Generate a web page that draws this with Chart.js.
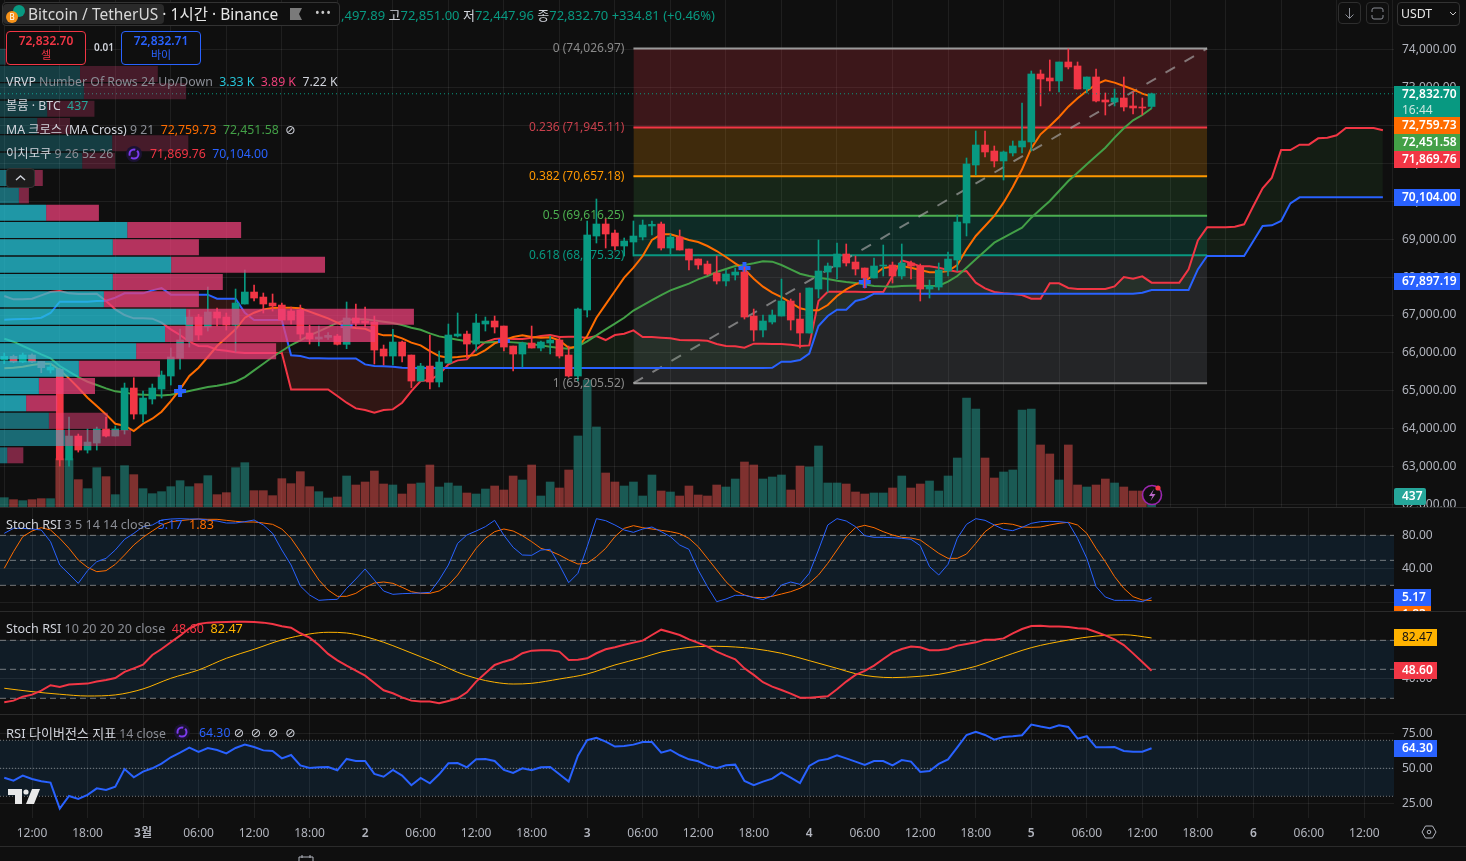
<!DOCTYPE html>
<html lang="ko">
<head>
<meta charset="utf-8">
<title>BTCUSDT</title>
<script src="https://cdn.jsdelivr.net/npm/chart.js@4/dist/chart.umd.min.js"></script>
<style>
html,body{margin:0;padding:0;background:#0f0f0f;width:1466px;height:861px;overflow:hidden}
body{position:relative;font-family:"Noto Sans","Noto Sans CJK KR",sans-serif;color:#d1d4dc}
canvas{position:absolute;left:0}
.t{position:absolute;white-space:nowrap;font-size:12.3px;line-height:16px;z-index:5}
.p{font-size:12.6px}
.g{color:#8b8e96}.w{color:#d1d4dc}
.sep{position:absolute;left:0;width:1466px;height:1px;background:#2b2b2b;z-index:4}
.tag{position:absolute;left:1394px;z-index:6;font-size:12px;line-height:16px;padding-left:8px;box-sizing:border-box;color:#fff;overflow:hidden;white-space:nowrap;font-weight:600}
.box{position:absolute;z-index:5;box-sizing:border-box;border-radius:4px}
.order{text-align:center;font-size:12px;line-height:14px;padding-top:2px;font-weight:600;background:#0f0f0f}
svg{position:absolute;z-index:6}
</style>
</head>
<body>
<canvas id="priceChart" width="1466" height="507" style="top:0;z-index:1"></canvas>
<canvas id="vpChart" width="1394" height="416" style="top:48px;z-index:2"></canvas>
<canvas id="stochFast" width="1466" height="103" style="top:508px;z-index:1"></canvas>
<canvas id="stochSlow" width="1466" height="102" style="top:612px;z-index:1"></canvas>
<canvas id="rsiChart" width="1466" height="131" style="top:715px;z-index:1"></canvas>

<div class="sep" style="top:507px"></div>
<div class="sep" style="top:611px"></div>
<div class="sep" style="top:714px"></div>
<div class="sep" style="top:846px"></div>

<!-- header -->
<div class="box" style="left:2px;top:2px;width:338px;height:24px;border:1px solid #333;background:#0f0f0f"></div>
<div class="box" style="left:3px;top:4px;width:161px;height:20px;background:#2a2a2a"></div>
<svg style="left:5px;top:4px" width="20" height="20"><circle cx="14" cy="7" r="6" fill="#089981"/><circle cx="7" cy="13" r="6" fill="#f7931a"/><text x="7" y="16" font-size="8" fill="#fff" text-anchor="middle">B</text></svg>
<div class="t" style="left:28px;top:6px;font-size:15.5px;color:#d8d8d8">Bitcoin / TetherUS<span style="color:#e6e6e6"> · 1시간 · Binance</span></div>
<svg style="left:290px;top:8px" width="13" height="12"><path d="M0 0h12l-3 6 3 6H0z" fill="#7a7a7a"/></svg>
<div class="t" style="left:315px;top:5px;color:#c8c8c8;letter-spacing:1px">•••</div>
<div class="t" style="left:341px;top:7px;font-size:13px;color:#089981">,497.89 <span class="w">고</span>72,851.00 <span class="w">저</span>72,447.96 <span class="w">종</span>72,832.70 +334.81 (+0.46%)</div>

<div class="box order" style="left:6px;top:31px;width:80px;height:34px;border:1px solid #f23645;color:#f23645">72,832.70<br><span style="font-weight:400;font-size:11px">셀</span></div>
<div class="t" style="left:94px;top:39px;font-size:10px;font-weight:600">0.01</div>
<div class="box order" style="left:121px;top:31px;width:80px;height:34px;border:1px solid #2962ff;color:#2962ff">72,832.71<br><span style="font-weight:400;font-size:11px">바이</span></div>

<div class="t" style="left:6px;top:74px"><span class="w">VRVP</span> <span class="g">Number Of Rows 24 Up/Down</span> &nbsp;<span style="color:#26c6da">3.33 K</span> &nbsp;<span style="color:#ec407a">3.89 K</span> &nbsp;<span class="w">7.22 K</span></div>
<div class="t" style="left:6px;top:98px"><span class="w">볼륨 · BTC</span> &nbsp;<span style="color:#26a69a">437</span></div>
<div class="t" style="left:6px;top:122px"><span class="w">MA 크로스 (MA Cross)</span> <span class="g">9 21</span> &nbsp;<span style="color:#ff6d00">72,759.73</span> &nbsp;<span style="color:#43a047">72,451.58</span> &nbsp;<span class="w" style="font-family:'DejaVu Sans'">⊘</span></div>
<div class="t" style="left:6px;top:146px"><span class="w">이치모쿠</span> <span class="g">9 26 52 26</span></div>
<svg style="left:126px;top:146px" width="16" height="16"><circle cx="8" cy="8" r="8" fill="#1b1233"/><circle cx="8" cy="8" r="4.5" fill="none" stroke="#7c3aed" stroke-width="2" stroke-dasharray="10 2"/></svg>
<div class="t" style="left:150px;top:146px"><span style="color:#f23645">71,869.76</span> &nbsp;<span style="color:#2962ff">70,104.00</span></div>
<div class="box" style="left:6px;top:168px;width:29px;height:20px;background:#1c1c1c;border:1px solid #333"></div>
<svg style="left:14px;top:174px" width="13" height="8"><path d="M2 6l4.5-4 4.5 4" fill="none" stroke="#d1d4dc" stroke-width="1.4"/></svg>

<div class="box" style="left:1338px;top:2px;width:23px;height:22px;border:1px solid #2e2e2e"></div>
<svg style="left:1343px;top:7px" width="13" height="13"><path d="M6.5 1v10M2.5 7.5l4 4 4-4" fill="none" stroke="#8b8e96"/></svg>
<div class="box" style="left:1366px;top:2px;width:23px;height:22px;border:1px solid #2e2e2e"></div>
<svg style="left:1370px;top:7px" width="15" height="13"><path d="M2 5V3q0-2 2-2h7q2 0 2 2v2M2 8v2q0 2 2 2h7q2 0 2-2V8" fill="none" stroke="#8b8e96"/></svg>
<div class="box" style="left:1397px;top:2px;width:63px;height:24px;border:1px solid #333"></div>
<div class="t" style="left:1401px;top:6px;color:#e6e6e6">USDT</div>
<svg style="left:1449px;top:11px" width="8" height="6"><path d="M1 1l3 3 3-3" fill="none" stroke="#c8c8c8"/></svg>

<!-- pane legends -->
<div class="t p" style="left:6px;top:517px"><span class="w">Stoch RSI</span> <span class="g">3 5 14 14 close</span> &nbsp;<span style="color:#2962ff">5.17</span> &nbsp;<span style="color:#ff6d00">1.83</span></div>
<div class="t p" style="left:6px;top:621px"><span class="w">Stoch RSI</span> <span class="g">10 20 20 20 close</span> &nbsp;<span style="color:#f23645">48.60</span> &nbsp;<span style="color:#ffb300">82.47</span></div>
<div class="t" style="left:6px;top:725px"><span class="w" style="font-size:13px">RSI 다이버전스 지표</span> <span class="g">14 close</span></div>
<svg style="left:174px;top:724px" width="16" height="16"><circle cx="8" cy="8" r="8" fill="#1b1233"/><circle cx="8" cy="8" r="4.5" fill="none" stroke="#7c3aed" stroke-width="2" stroke-dasharray="10 2"/></svg>
<div class="t" style="left:199px;top:725px"><span style="color:#2962ff">64.30</span> <span class="w" style="font-family:'DejaVu Sans';word-spacing:3px">⊘ ⊘ ⊘ ⊘</span></div>

<!-- price tags -->
<div class="tag" style="top:86px;width:66px;height:31px;background:#089981">72,832.70<br><span style="font-weight:400;color:#c9e6e0">16:44</span></div>
<div class="tag" style="top:117px;width:66px;height:17px;background:#ff6d00">72,759.73</div>
<div class="tag" style="top:134px;width:66px;height:17px;background:#43a047">72,451.58</div>
<div class="tag" style="top:151px;width:66px;height:17px;background:#f23645">71,869.76</div>
<div class="tag" style="top:189px;width:66px;height:17px;background:#2962ff">70,104.00</div>
<div class="tag" style="top:273px;width:66px;height:17px;background:#2962ff">67,897.19</div>
<div class="tag" style="top:488px;width:32px;height:17px;background:#26a69a;border-radius:2px">437</div>
<div class="tag" style="top:589px;width:37px;height:17px;background:#2962ff">5.17</div>
<div class="tag" style="top:606px;width:37px;height:5px;background:#ff6d00">1.83</div>
<div class="tag" style="top:629px;width:43px;height:17px;background:#ffb300;color:#131313;font-weight:400">82.47</div>
<div class="tag" style="top:662px;width:43px;height:17px;background:#f23645">48.60</div>
<div class="tag" style="top:740px;width:43px;height:17px;background:#2962ff">64.30</div>

<!-- icons -->
<svg style="left:1140px;top:483px" width="24" height="24"><circle cx="12" cy="12" r="9.5" fill="#0f0f0f" stroke="#9c27b0" stroke-width="1.6"/><path d="M14 6l-5 7h3.5l-2 5 5-7H12z" fill="#ba68c8"/><circle cx="18" cy="5" r="2.6" fill="#f23645"/></svg>
<svg style="left:6px;top:787px" width="36" height="19"><path d="M2 2h14v15H9V8H2z" fill="#e8e8e8"/><circle cx="20" cy="5" r="2.6" fill="#e8e8e8"/><path d="M26 2h8l-6 15h-8z" fill="#e8e8e8"/></svg>
<svg style="left:1421px;top:825px" width="16" height="14"><path d="M4.5 1h7L15 7l-3.500 6h-7L1 7z" fill="none" stroke="#b2b5be"/><circle cx="8" cy="7" r="1.800" fill="none" stroke="#b2b5be"/></svg>
<svg style="left:297px;top:854px" width="18" height="7"><path d="M2 7V3h14v4M5 1v3M13 1v3" fill="none" stroke="#b2b5be"/></svg>

<script>
// first candle is 1 Mar 09:00, hours are counted from 1 Mar 12:00
const firstHour = -3
const hourMin = -3.46
const hourMax = 147.2

const timeLabels = ['12:00','18:00','3월','06:00','12:00','18:00','2','06:00','12:00','18:00','3','06:00','12:00','18:00','4','06:00','12:00','18:00','5','06:00','12:00','18:00','6','06:00','12:00']
const dayLabels = ['3월','2','3','4','5','6']
const priceTicks = [74000,73000,72000,71000,70000,69000,68000,67000,66000,65000,64000,63000,62000]
const stochTicks = [80,40,0]
const rsiTicks = [75,50,25]

const opens = [
65815,65911,65762,65946,65779,65551,65569,63179,63811,63442,
63627,63996,63811,63969,65077,64391,64787,65050,65393,65867,
66316,66948,66685,67080,66948,66737,67291,67607,67475,67317,
67264,67106,67133,66526,66368,66412,66447,66228,66922,66843,
66816,66105,65920,66289,65946,65261,65656,65235,65735,66447,
66500,66236,66764,66843,66711,66184,65973,66263,66131,66263,
66342,65946,65393,67133,69083,69400,69162,68820,68925,69057,
69347,69400,68767,69057,68741,68477,68345,68108,67897,68055,
68134,66974,66605,66816,66974,67370,66895,66526,67686,68134,
68266,68609,68398,68240,67976,68293,68319,68029,68372,68293,
67686,67739,68161,68451,69426,70955,71482,71324,71061,71272,
71430,71562,73354,73249,73170,73670,73565,72959,73275,72669,
72616,72721,72511,72484,72497.89]
const highs = [
65999,65946,65999,65980,65779,65718,65600,64312,63864,63996,
64048,64312,64075,65208,65349,64997,65182,65525,66131,66632,
67133,67018,67739,67185,67054,67686,68187,67792,67581,67555,
67317,67212,67264,66737,66711,66535,66491,67344,67291,67212,
66974,66210,66623,66316,65946,65727,66474,66052,66764,67054,
66579,67027,66948,66974,66711,66184,66289,66711,66315,66447,
66403,66184,67185,69479,70059,69549,69242,69031,69479,69505,
69479,69452,69136,69242,68741,68477,68424,68556,68187,68240,
68266,67159,67001,67133,67950,67423,67581,67713,68978,68372,
68899,68873,68556,68240,68503,68846,68398,68873,68424,68345,
67923,68372,68662,69637,71140,71852,71852,71456,71324,71588,
72590,73433,73460,73723,73670,74013,73670,73275,73486,72853,
72959,73275,72880,72721,72851]
const lows = [
65718,65744,65744,65744,65481,65472,63020,63020,63389,63363,
63442,63785,63811,63864,64259,64180,64655,64813,65156,65577,
66157,66342,66579,66711,66605,66026,67291,67370,67054,67106,
66869,66764,66368,66236,66184,66359,66210,66113,66711,66685,
65709,65683,65683,65762,65085,65261,65050,65103,65735,66421,
65876,66052,66579,66526,66052,65525,65630,66131,66052,65973,
65867,65366,65261,66948,68899,68767,68714,68556,68556,68978,
69110,68714,68609,68714,68187,68213,68055,67818,67765,67923,
66895,66315,66421,66764,66974,66605,66131,66526,67449,67607,
67950,68293,68055,67713,67976,68029,67844,67950,67950,67370,
67449,67660,68029,68161,69084,70692,71166,70903,70560,71192,
71272,71324,72511,72906,72880,73486,72959,72853,72616,72273,
72511,72379,72300,72273,72447.96]
const closes = [
65911,65762,65946,65762,65613,65630,63179,63811,63442,63653,
63996,63811,63996,65077,64391,64813,65077,65419,65894,66342,
66948,66474,67080,66922,66737,67317,67607,67449,67291,67238,
66869,66869,66500,66368,66421,66465,66228,66922,66790,66790,
66078,65920,66289,65920,65261,65656,65235,65762,66474,66500,
66236,66790,66843,66685,66157,65973,66263,66131,66289,66342,
65920,65393,67159,69110,69400,69136,68820,68952,69083,69373,
69391,68767,69057,68714,68451,68319,68082,67897,68082,68134,
66948,66605,66843,67001,67370,66869,66526,67713,68161,68293,
68609,68372,68213,67976,68293,68319,68029,68372,68293,67686,
67765,68187,68477,69452,70982,71482,71298,71061,71298,71456,
71588,73354,73222,73170,73670,73539,72959,73275,72642,72616,
72721,72484,72458,72458,72832.70]
const volumes = [
411,323,279,323,367,367,2127,2127,1203,807,
1731,1335,543,1819,1423,807,587,675,895,1159,
895,1027,1379,543,631,1731,1951,719,719,499,
1247,1027,1555,895,675,396,440,1364,968,1100,
1584,1012,968,572,1012,1056,1848,880,1056,924,
616,572,792,924,748,1364,1188,1848,484,1100,
836,1628,3125,5589,3521,1496,1100,924,1100,484,
1408,704,660,484,924,528,484,968,880,1232,
1980,1848,1232,1320,1408,748,1804,1760,2685,1056,
1056,1012,660,572,616,616,836,1364,836,1012,
1144,704,1364,2156,4797,4313,2156,1276,1540,1628,
4269,4313,2729,2333,1188,2729,968,880,968,1232,
1056,880,704,704,437]

const maFast = [
65595,65613,65639,65683,65718,65718,65551,65331,65085,64822,
64602,64382,64136,64084,63943,64136,64268,64453,64734,65041,
65393,65613,65894,66184,66403,66623,66931,67062,67150,67185,
67194,67194,67177,67089,67001,66913,66799,66684,66658,66640,
66535,66465,66465,66386,66272,66201,66052,65920,65876,65894,
65920,65946,66078,66254,66333,66421,66465,66421,66403,66412,
66333,66140,66166,66447,66930,67282,67633,67985,68249,68556,
68978,69127,69127,69057,68978,68925,68820,68688,68530,68363,
68205,67959,67748,67590,67475,67326,67177,67124,67124,67264,
67502,67677,67809,67897,68055,68240,68275,68293,68249,68187,
68126,68126,68161,68319,68732,69084,69347,69611,69962,70375,
70841,71395,71764,71983,72221,72493,72713,72906,73082,73187,
73126,73038,72950,72836,72759.73]
const maSlow = [
66377,66298,66184,66078,65964,65859,65656,65507,65366,65243,
65156,65068,64989,64962,64910,64901,64892,64883,64901,64945,
64997,65050,65103,65138,65182,65243,65366,65542,65718,65894,
66052,66210,66333,66465,66570,66684,66799,66869,66887,66887,
66860,66825,66790,66737,66667,66614,66518,66438,66395,66351,
66307,66289,66280,66289,66298,66280,66263,66228,66201,66166,
66131,66113,66175,66307,66465,66623,66772,66930,67120,67256,
67396,67528,67651,67739,67827,67941,68029,68134,68213,68293,
68319,68363,68416,68407,68319,68205,68090,68029,67985,67950,
67906,67871,67844,67809,67765,67756,67748,67765,67774,67774,
67765,67774,67880,68030,68249,68468,68688,68908,69040,69172,
69303,69567,69787,70006,70270,70533,70753,70973,71192,71412,
71676,71922,72133,72273,72451.58]

// the cloud runs 25 hours past the last candle
const spanA = [
67502,67414,67414,67431,67519,67607,67634,67572,67555,67555,
67563,67370,67150,67001,66913,66913,66904,66799,66623,66474,
66298,66184,66175,66087,66061,66017,66000,66000,66000,66000,
66000,65041,65041,65041,65041,65041,64866,64690,64540,64496,
64426,64496,64514,64690,64997,65261,65287,65437,65700,65806,
65832,66096,66289,66368,66386,66368,66368,66403,66447,66474,
66421,66430,66430,66395,66447,66342,66474,66509,66597,66421,
66421,66403,66386,66342,66333,66333,66324,66236,66184,66175,
66140,66245,66245,66236,66236,66219,66184,66201,67370,67616,
67616,67616,67616,67607,67607,67607,68029,68442,68372,68284,
68284,68249,68187,68143,68161,67853,67704,67607,67572,67555,
67528,67432,67432,67836,67836,67713,67687,67687,67687,67687,
67757,68003,67959,68020,67853,67853,67853,67853,68204,68969,
69312,69312,69312,69329,69391,69874,70340,70621,71350,71350,
71491,71491,71658,71675,71737,71930,71930,71930,71930,71869.76]
const spanB = [
66878,66887,66895,66904,66931,67054,67352,67352,67352,67352,
67370,67379,67458,67572,67572,67572,67651,67713,67537,67537,
67537,67537,67537,67431,67431,67431,67062,66869,66869,66869,
66869,65938,65920,65859,65859,65858,65858,65858,65858,65700,
65656,65648,65639,65612,65604,65604,65604,65604,65604,65604,
65604,65604,65604,65604,65604,65604,65604,65604,65604,65604,
65604,65604,65604,65604,65604,65604,65604,65604,65604,65604,
65604,65604,65604,65604,65604,65604,65604,65604,65604,65604,
65604,65604,65604,65612,65770,65770,65815,65982,66711,66974,
67141,67141,67370,67431,67563,67563,67563,67563,67563,67563,
67563,67563,67563,67563,67563,67563,67563,67563,67563,67563,
67563,67563,67563,67563,67563,67563,67563,67563,67563,67563,
67563,67563,67563,67590,67660,67660,67660,67660,67660,68204,
68556,68556,68556,68556,68556,68951,69347,69364,69479,69944,
70104,70104,70104,70104,70104,70104,70104,70104,70104,70104]

const crossHours = [16,34,51,77,90]
const crossPrices = [64997,66711,66316,68240,67871]

const fibStart = 65
const fibEnd = 127
const fibRatios = ['0','0.236','0.382','0.5','0.618','1']
const fibPrices = [74026.97,71945.11,70657.18,69616.25,68575.32,65205.52]

// visible range profile, top row first
const vpUp = [9,144,151,85,67,202,148,36,34,83,229,203,308,203,187,335,297,245,142,70,47,88,117,13]
const vpDown = [2,140,184,85,59,137,59,41,18,95,205,155,277,198,171,410,378,252,146,101,56,106,119,29]

const stochFastK = [
82.4,88.4,88.4,87.6,86.4,72.4,44.4,33.6,22.4,37.6,
48.4,52.4,62.4,75.2,82.4,90.4,92.4,98.4,99.6,100,
99.6,99.6,98.4,97.2,94.8,94.8,96.4,98.4,92.4,82.4,
62.4,44.4,19.2,8.4,2,2.8,3.2,16.4,27.6,39.6,
26.4,13.2,9.2,10,10.4,10.8,11.6,26.4,44.4,70.4,
80.4,85.2,90.4,98,80,65.6,56.4,56,62.4,63.2,
44.4,23.2,34.4,66.4,100,97.6,92.4,86.4,83.6,87.6,
90,84.4,78.4,68.4,63.2,38.4,18.4,0.4,3.6,8,
8,5.2,2.8,7.6,20.4,24,21.2,34.4,62.4,92.4,
100,97.2,90.4,79.6,77.6,77.6,77.2,76.4,75.2,67.6,
42.4,32.4,45.2,76.4,93.2,100,98,92.4,87.2,85.6,
89.6,94.4,96.4,96.8,96.4,95.2,76.4,52.4,18.4,6,
2,2,2,0.4,5.17]
const stochFastD = [
40.4,60.4,78.4,85.2,89.2,86.4,76.4,64.4,50.4,41.6,
36.4,37.6,45.2,56.4,68.4,77.6,85.2,92.4,96.4,97.6,
98.8,99.6,99.2,99.2,98,96.8,96,96,94.8,93.2,
87.6,76.4,60.4,43.2,26.4,14.4,6.8,6.8,10.4,17.6,
22.8,24,22.4,17.6,12.4,10.4,10.4,13.2,20.4,32.4,
48.4,64.4,76.4,84.4,87.6,85.2,79.6,72.4,64.4,61.2,
56.4,50.4,45.6,46.4,54.4,64.4,78.4,88.4,91.6,89.2,
87.6,86,84.4,82,76.4,66.4,52.4,38.4,24.4,13.6,
8.4,5.6,5.2,6.8,9.6,12.4,16.4,22.4,32.4,46.4,
62.4,78.4,89.2,92,89.2,84.4,80.4,77.6,76.8,74.4,
66.4,58.4,52.4,52.4,57.6,70.4,84.4,92.4,94.4,93.2,
90,89.6,90,92.4,94.4,95.6,92.4,82.4,64.4,48.4,
30.4,16.4,6.4,2.4,1.83]
const stochSlowK = [
15.9,17.6,21.7,23.8,28,33.5,31.7,34.2,34.8,35.2,
37.3,39,41,47.3,51,54.8,64.8,71,78,84.8,
92.4,96.9,98.3,98.6,99,99.3,99.3,99,98.3,96.9,
94.5,93.1,87.3,82.8,75.2,65.9,59.3,53.8,48.6,43.5,
35.9,28.3,25.2,21,17.6,16.6,16.6,14.8,17.3,20,
26.2,37.3,45.9,54.5,57.9,60.7,66.6,69.3,69.7,69.7,
68.3,59.7,60,61.4,66.6,70.7,72.8,75.5,77.6,79.7,
85.5,91,88.3,85.5,81,77.3,73.5,68.3,64.1,60.4,
51,44.2,36.6,32.1,28.6,24.8,20.7,20.7,21.4,22.1,
29.3,37.3,44.2,48.3,53.8,60.7,67.3,71,73.5,72.8,
69.7,69.7,71,74.5,76.2,77.9,80.7,80.7,82,87.2,
91.7,94.8,95.1,94.4,94.4,93.7,92.4,92,88.6,85.1,
81,75.1,66.5,57.5,48.6]
// the slow signal is smooth, so it is read only every few hours
const slowDHours = [-3,0,3,6,9,12,15,18,21,24,27,30,32,34,36,38,40,42,44,46,48,50,52,54,57,60,63,66,68,70,72,74,76,78,81,84,87,89,91,93,96,98,100,102,104,108,112,115,118,121]
const slowDValues = [30.4,26.9,24.2,22.4,23.5,29.7,40.7,49.3,61.4,70.7,80.4,86.6,88.3,87.6,83.8,78,70.7,63.1,55.5,46.9,40.7,36.6,34.8,35.5,40,45.2,54.5,62.1,67.9,71.4,73.5,73.8,73.1,71.4,66.6,59,51,45.5,42.4,41.4,42.8,44.8,48.6,53.1,59.7,72.4,80.3,84.4,85.8,82.47]
const rsiValues = [
43.3,41.2,44.8,42.4,40.7,39.8,21.2,30.2,28.1,31,
35.7,34.5,36.9,49.5,43.6,47.6,50,53.3,57.9,61.2,
64.8,61.7,64.5,63.1,60.7,64.5,66.9,65.2,62.8,62.4,
57.1,59.5,52.1,50.2,50.7,50.9,48.6,56.7,55.2,55.2,
46,44,48.8,44.8,37.9,43.1,39.3,45.7,53.6,53.8,
50.7,56.4,56.7,55.2,48.8,46.7,50,48.6,50.7,50.9,
45.7,40.5,59,70.2,71.7,69,65.5,65.9,66.9,68.8,
68.8,61.2,63.1,59.3,56.4,55,51.9,50,52.1,52.6,
41,37.9,40.5,42.6,47.1,43.3,39.5,51.7,55.5,56.7,
59.3,57.1,54.8,52.4,55.2,55.2,52.1,55.9,54.8,47.4,
48.1,53.1,56.4,65,73.8,76,73.8,70.5,72.4,72.9,
73.6,81.2,79.8,78.6,80.7,79.5,71.2,72.9,65,65,
65.2,62.4,61.9,61.9,64.30]

const up = '#089981'
const down = '#f23645'
const gridColor = 'rgba(255,255,255,0.07)'
const fontFamily = '"Noto Sans","Noto Sans CJK KR",sans-serif'

Chart.defaults.font.family = fontFamily
Chart.defaults.font.size = 12
Chart.defaults.animation = false

function points(values) {
    return values.map((v, k) => ({ x: k + firstHour, y: v }))
}

function level(value, from, to) {
    return [{ x: from, y: value }, { x: to, y: value }]
}

function lineSet(data, color, width, order, extra) {
    return Object.assign({
        type: 'line', data: data, borderColor: color, borderWidth: width,
        pointRadius: 0, tension: 0, order: order, fill: false, yAxisID: 'y'
    }, extra)
}

function noPadding(s) {
    s.paddingTop = 0
    s.paddingBottom = 0
    s.paddingLeft = 0
    s.paddingRight = 0
}

function xAxis(showLabels) {
    return {
        type: 'linear', min: hourMin, max: hourMax, offset: false,
        grid: { color: gridColor, drawTicks: false },
        border: { display: false },
        afterFit: (s) => { s.height = showLabels ? 28 : 0; noPadding(s) },
        ticks: {
            display: showLabels, stepSize: 6, includeBounds: false, autoSkip: false,
            maxRotation: 0, padding: 8, color: '#b2b5be',
            callback: (v) => timeLabels[v / 6],
            font: (c) => ({
                weight: c.tick && dayLabels.includes(timeLabels[c.tick.value / 6]) ? '600' : '400'
            })
        }
    }
}

function yAxis(min, max, tickValues) {
    return {
        position: 'right', min: min, max: max,
        grid: { color: gridColor, drawTicks: false },
        border: { display: false },
        afterBuildTicks: (s) => { s.ticks = tickValues.map((v) => ({ value: v })) },
        afterFit: (s) => { s.width = 72; noPadding(s) },
        ticks: {
            autoSkip: false, padding: 8, color: '#b2b5be',
            callback: (v) => v.toLocaleString('en-US', { minimumFractionDigits: 2 })
        }
    }
}

function baseOptions(scales) {
    return {
        responsive: false, events: [],
        layout: { padding: 0, autoPadding: false },
        plugins: { legend: { display: false }, tooltip: { enabled: false } },
        scales: scales
    }
}

// ---- price pane ----
const candleColors = closes.map((c, k) => c >= opens[k] ? up : down)
const volumeColors = closes.map((c, k) => c >= opens[k] ? 'rgba(38,166,154,0.5)' : 'rgba(239,83,80,0.5)')
const fibLine = ['#9a9a9a', '#f23645', '#ff9800', '#4caf50', '#089981', '#9a9a9a']
const fibFill = [null, 'rgba(242,54,69,0.2)', 'rgba(255,152,0,0.2)', 'rgba(76,175,80,0.15)', 'rgba(8,153,129,0.2)', 'rgba(120,123,134,0.2)']
const fibText = ['#8a8a8a', '#c8404c', '#ff9800', '#4caf50', '#089981', '#8a8a8a']

const priceSets = []
priceSets.push({
    type: 'bar', label: 'volume', yAxisID: 'yVol', order: 90, grouped: false, barThickness: 8,
    data: volumes.map((v, k) => ({ x: k + firstHour, y: v })), backgroundColor: volumeColors
})
fibPrices.forEach((p, k) => {
    const extra = fibFill[k] ? { fill: { target: '-1', above: fibFill[k], below: fibFill[k] } } : {}
    priceSets.push(lineSet(level(p, fibStart, fibEnd), fibLine[k], 2, 80, extra))
})
priceSets.push(lineSet([{ x: fibStart, y: fibPrices[5] }, { x: fibEnd, y: fibPrices[0] }],
    'rgba(170,170,170,0.65)', 2, 70, { borderDash: [11, 11] }))

const spanBIndex = priceSets.length
priceSets.push(lineSet(points(spanB), '#2962ff', 2, 60))
priceSets.push(lineSet(points(spanA), down, 2, 60, {
    fill: { target: spanBIndex, above: 'rgba(67,160,71,0.1)', below: 'rgba(244,67,54,0.15)' }
}))
priceSets.push(lineSet(points(maSlow), '#43a047', 2, 50))
priceSets.push(lineSet(points(maFast), '#ff6d00', 2, 49))
priceSets.push({
    type: 'scatter', yAxisID: 'y', order: 45,
    data: crossHours.map((h, k) => ({ x: h, y: crossPrices[k] })),
    pointStyle: 'cross', pointRadius: 6, pointBorderWidth: 4, pointBorderColor: '#2962ff', showLine: false
})
priceSets.push({
    type: 'bar', label: 'wicks', yAxisID: 'y', order: 20, grouped: false, barThickness: 1,
    data: lows.map((l, k) => ({ x: k + firstHour, y: [l, highs[k]] })), backgroundColor: candleColors
})
priceSets.push({
    type: 'bar', label: 'bodies', yAxisID: 'y', order: 10, grouped: false, barThickness: 7,
    data: opens.map((o, k) => ({ x: k + firstHour, y: [o, closes[k]] })), backgroundColor: candleColors
})
priceSets.push(lineSet(level(closes[closes.length - 1], hourMin, hourMax), up, 1, 5, { borderDash: [1, 3] }))

const fibLabels = {
    id: 'fibLabels',
    afterDatasetsDraw(chart) {
        const ctx = chart.ctx
        ctx.save()
        ctx.font = '12px ' + fontFamily
        ctx.textAlign = 'right'
        ctx.textBaseline = 'middle'
        fibPrices.forEach((p, k) => {
            ctx.fillStyle = fibText[k]
            const text = fibRatios[k] + ' (' + p.toLocaleString('en-US', { minimumFractionDigits: 2 }) + ')'
            ctx.fillText(text, chart.scales.x.getPixelForValue(fibStart) - 9, chart.scales.y.getPixelForValue(p))
        })
        ctx.restore()
    }
}

new Chart(document.getElementById('priceChart'), {
    type: 'bar',
    data: { datasets: priceSets },
    options: baseOptions({
        x: xAxis(false),
        y: yAxis(61941, 75304, priceTicks),
        yVol: { display: false, min: 0, max: 22308, position: 'left' }
    }),
    plugins: [fibLabels]
})

// ---- volume profile, drawn over the candles ----
function vpAlpha(k) {
    if (k < 7) return 0.25
    if (k < 9 || k > 20) return 0.5
    return 0.75
}

new Chart(document.getElementById('vpChart'), {
    type: 'bar',
    data: {
        labels: vpUp.map((v, k) => k),
        datasets: [
            { data: vpUp, barPercentage: 0.92, categoryPercentage: 1, backgroundColor: vpUp.map((v, k) => 'rgba(38,198,218,' + vpAlpha(k) + ')') },
            { data: vpDown, barPercentage: 0.92, categoryPercentage: 1, backgroundColor: vpDown.map((v, k) => 'rgba(236,64,122,' + vpAlpha(k) + ')') }
        ]
    },
    options: Object.assign(baseOptions({
        x: { display: false, stacked: true, min: 0, max: 2509 },
        y: { display: false, stacked: true }
    }), { indexAxis: 'y' })
})

// ---- oscillator panes ----
function guides(values, band, dash) {
    const sets = values.map((v) => lineSet(level(v, hourMin, hourMax), 'rgba(200,200,200,0.55)', 1, 50, { borderDash: dash }))
    sets[sets.length - 1].fill = { target: 0, above: band, below: band }
    return sets
}

const bandColor = 'rgba(33,150,243,0.1)'

new Chart(document.getElementById('stochFast'), {
    type: 'line',
    data: { datasets: guides([80, 50, 20], bandColor, [6, 4]).concat([
        lineSet(points(stochFastD), '#ff6d00', 1, 11),
        lineSet(points(stochFastK), '#2962ff', 1, 10)
    ]) },
    options: baseOptions({ x: xAxis(false), y: yAxis(-10.8, 112.8, stochTicks) })
})

new Chart(document.getElementById('stochSlow'), {
    type: 'line',
    data: { datasets: guides([80, 50, 20], bandColor, [6, 4]).concat([
        lineSet(slowDHours.map((h, k) => ({ x: h, y: slowDValues[k] })), '#ffb300', 1, 11, { cubicInterpolationMode: 'monotone' }),
        lineSet(points(stochSlowK), down, 2, 10)
    ]) },
    options: baseOptions({ x: xAxis(false), y: yAxis(3.76, 109.3, stochTicks.slice(0, 2)) })
})

new Chart(document.getElementById('rsiChart'), {
    type: 'line',
    data: { datasets: guides([70, 50, 30], bandColor, [1, 2]).concat([
        lineSet(points(rsiValues), '#2962ff', 2, 10)
    ]) },
    options: baseOptions({ x: xAxis(true), y: yAxis(14.5, 88.07, rsiTicks) })
})
</script>
</body>
</html>
